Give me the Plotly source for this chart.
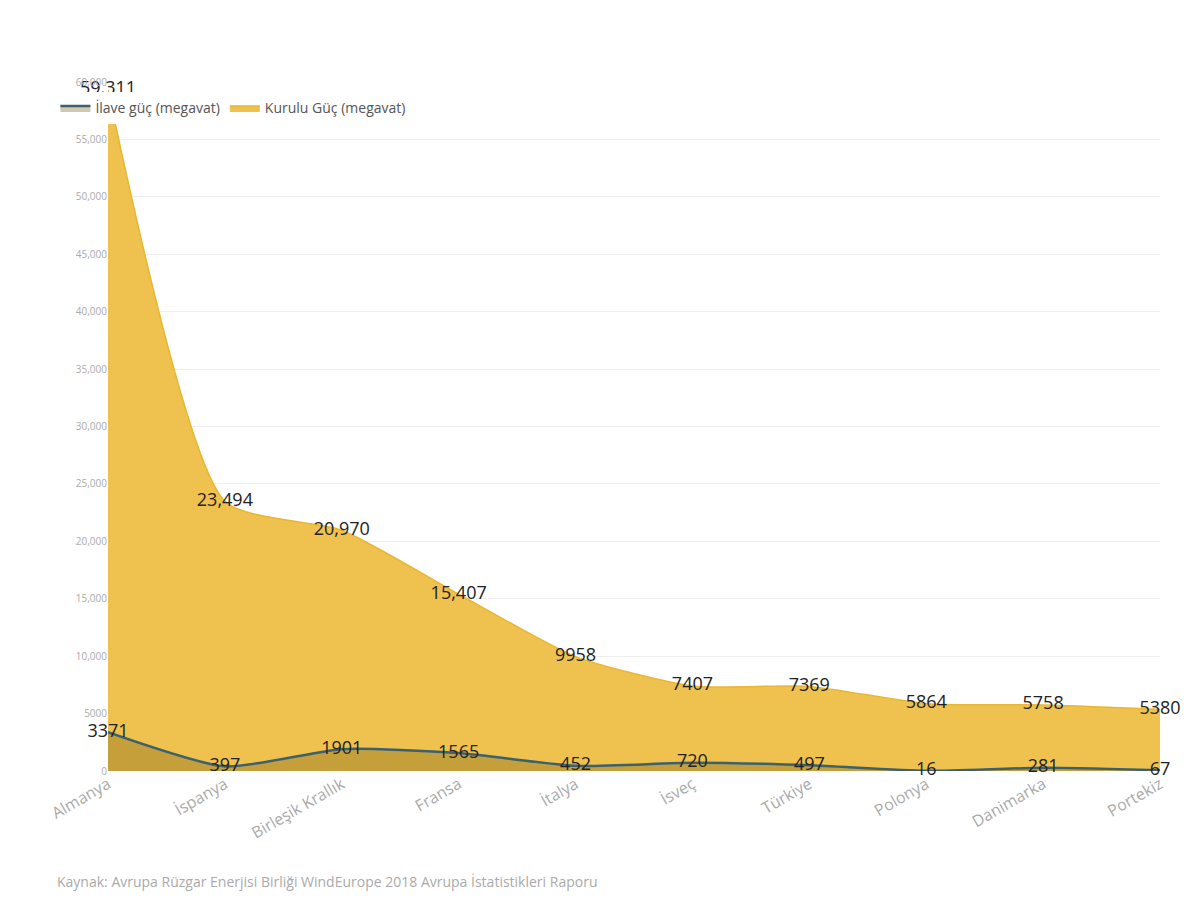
import plotly.graph_objects as go

countries = ["Almanya", "İspanya", "Birleşik Krallık", "Fransa", "İtalya",
             "İsveç", "Türkiye", "Polonya", "Danimarka", "Portekiz"]
kurulu = [59311, 23494, 20970, 15407, 9958, 7407, 7369, 5864, 5758, 5380]
ilave = [3371, 397, 1901, 1565, 452, 720, 497, 16, 281, 67]
kurulu_labels = ["59,311", "23,494", "20,970", "15,407", "9958",
                 "7407", "7369", "5864", "5758", "5380"]
ilave_labels = [str(v) for v in ilave]

tick_vals = [0, 5000, 10000, 15000, 20000, 25000, 30000, 35000, 40000, 45000, 50000, 55000, 60000]
tick_text = ["0", "5000", "10,000", "15,000", "20,000", "25,000", "30,000",
             "35,000", "40,000", "45,000", "50,000", "55,000", "60,000"]

fig = go.Figure()
fig.add_trace(go.Scatter(
    x=countries, y=kurulu, name="Kurulu Güç (megavat)",
    mode="lines+text", line=dict(color="#e8b630", width=1.5, shape="spline", smoothing=0.6),
    fill="tozeroy", fillcolor="rgba(238,188,64,0.92)",
    text=kurulu_labels, textposition="middle center", cliponaxis=False,
    textfont=dict(size=18, color="#222", family="Open Sans"),
))
fig.add_trace(go.Scatter(
    x=countries, y=ilave, name="İlave güç (megavat)",
    mode="lines+text", line=dict(color="#3b6070", width=2.5, shape="spline", smoothing=0.6),
    fill="tozeroy", fillcolor="rgba(120,100,20,0.35)",
    text=ilave_labels, textposition="middle center", cliponaxis=False,
    textfont=dict(size=18, color="#222", family="Open Sans"),
))

fig.update_layout(
    width=1200, height=899,
    paper_bgcolor="white", plot_bgcolor="white",
    margin=dict(l=100, r=48, t=74, b=136),
    font=dict(family="Open Sans", color="#999"),
    showlegend=True,
    legend=dict(orientation="h", x=-0.05, y=0.985, yanchor="top", traceorder="reversed",
                font=dict(size=14, color="#555")),
    xaxis=dict(showgrid=False, showline=False, tickangle=-30, range=[0, 9],
               automargin=False, tickfont=dict(size=16, color="#aaa")),
    yaxis=dict(range=[0, 60000], tickvals=tick_vals, ticktext=tick_text,
               automargin=False, gridcolor="#eeeeee", zeroline=False,
               tickfont=dict(size=10, color="#aaa")),
    annotations=[dict(
        text="Kaynak: Avrupa Rüzgar Enerjisi Birliği WindEurope 2018 Avrupa İstatistikleri Raporu",
        x=-0.05, y=-0.16, xref="paper", yref="paper", showarrow=False,
        font=dict(size=14, color="#aaa"), xanchor="left", yanchor="middle",
    )],
)
fig.write_html("out.html")
